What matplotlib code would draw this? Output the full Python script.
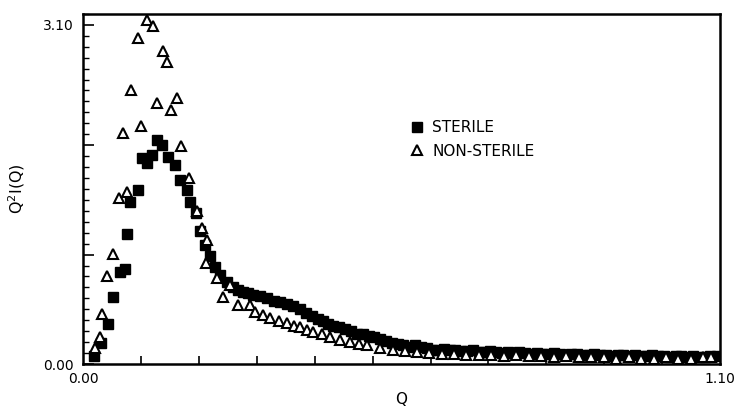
import matplotlib
matplotlib.use('Agg')
import matplotlib.pyplot as plt
from matplotlib.lines import Line2D
from matplotlib.ticker import MultipleLocator, FixedLocator

# scattering curves Q^2 I(Q) for the two sample types
sterile_q = [0.019, 0.031, 0.043, 0.052, 0.064, 0.073, 0.076, 0.081, 0.095, 0.102,
             0.111, 0.119, 0.128, 0.136, 0.147, 0.159, 0.167, 0.180, 0.185, 0.195,
             0.202, 0.211, 0.219, 0.228, 0.237, 0.249, 0.259, 0.268, 0.276, 0.285,
             0.294, 0.305, 0.318, 0.329, 0.340, 0.352, 0.363, 0.375, 0.385, 0.395,
             0.405, 0.414, 0.423, 0.432, 0.442, 0.452, 0.462, 0.473, 0.483, 0.493,
             0.503, 0.513, 0.523, 0.533, 0.543, 0.553, 0.563, 0.573, 0.583, 0.593,
             0.603, 0.613, 0.623, 0.633, 0.643, 0.653, 0.663, 0.673, 0.683, 0.693,
             0.703, 0.713, 0.723, 0.733, 0.743, 0.753, 0.763, 0.773, 0.783, 0.793,
             0.803, 0.813, 0.823, 0.833, 0.843, 0.853, 0.863, 0.873, 0.883, 0.893,
             0.903, 0.913, 0.923, 0.933, 0.943, 0.953, 0.963, 0.973, 0.983, 0.993,
             1.003, 1.013, 1.023, 1.033, 1.043, 1.053, 1.063, 1.073, 1.083, 1.094]
sterile_v = [0.07, 0.19, 0.37, 0.61, 0.84, 0.87, 1.19, 1.48, 1.59, 1.88,
             1.84, 1.91, 2.05, 2.00, 1.89, 1.82, 1.68, 1.59, 1.48, 1.38,
             1.22, 1.09, 0.99, 0.89, 0.81, 0.75, 0.70, 0.68, 0.66, 0.65,
             0.63, 0.62, 0.60, 0.58, 0.57, 0.55, 0.53, 0.50, 0.47, 0.44,
             0.41, 0.39, 0.37, 0.35, 0.34, 0.32, 0.30, 0.27, 0.27, 0.26,
             0.25, 0.23, 0.21, 0.19, 0.18, 0.17, 0.16, 0.17, 0.16, 0.15,
             0.13, 0.13, 0.14, 0.13, 0.13, 0.12, 0.12, 0.13, 0.11, 0.11,
             0.12, 0.11, 0.10, 0.11, 0.10, 0.11, 0.10, 0.09, 0.10, 0.09,
             0.09, 0.10, 0.09, 0.08, 0.09, 0.09, 0.08, 0.08, 0.09, 0.08,
             0.08, 0.07, 0.08, 0.08, 0.07, 0.08, 0.07, 0.07, 0.08, 0.07,
             0.07, 0.06, 0.07, 0.07, 0.06, 0.07, 0.06, 0.06, 0.07, 0.07]

nonsterile_q = [0.021, 0.029, 0.033, 0.041, 0.052, 0.062, 0.069, 0.076, 0.083, 0.095,
                0.100, 0.111, 0.121, 0.128, 0.138, 0.145, 0.152, 0.162, 0.169, 0.183,
                0.197, 0.205, 0.212, 0.214, 0.232, 0.242, 0.254, 0.268, 0.288, 0.297,
                0.310, 0.323, 0.338, 0.352, 0.364, 0.375, 0.386, 0.397, 0.412, 0.427,
                0.444, 0.461, 0.476, 0.490, 0.512, 0.535, 0.556, 0.577, 0.598, 0.620,
                0.641, 0.662, 0.684, 0.705, 0.727, 0.748, 0.770, 0.791, 0.813, 0.834,
                0.856, 0.877, 0.899, 0.920, 0.942, 0.963, 0.985, 1.006, 1.028, 1.049,
                1.071, 1.085]
nonsterile_v = [0.15, 0.25, 0.46, 0.80, 1.01, 1.52, 2.11, 1.57, 2.50, 2.98,
                2.18, 3.14, 3.09, 2.39, 2.86, 2.76, 2.32, 2.43, 1.99, 1.70,
                1.40, 1.24, 0.92, 1.13, 0.79, 0.61, 0.72, 0.54, 0.54, 0.475,
                0.45, 0.42, 0.39, 0.375, 0.35, 0.34, 0.31, 0.29, 0.27, 0.25,
                0.22, 0.20, 0.18, 0.17, 0.15, 0.13, 0.12, 0.11, 0.10, 0.09,
                0.09, 0.08, 0.08, 0.08, 0.07, 0.08, 0.07, 0.07, 0.06, 0.07,
                0.06, 0.06, 0.06, 0.05, 0.06, 0.05, 0.05, 0.06, 0.05, 0.05,
                0.06, 0.06]

labels = ['STERILE', 'NON-STERILE']

plt.rcParams['font.family'] = 'DejaVu Sans'

fig = plt.figure(figsize=(7.4, 4.09), dpi=100)
ax = fig.add_axes([0.1122, 0.110, 0.861, 0.856])

ax.plot(sterile_q, sterile_v, 's', color='black', markersize=7, linestyle='none',
        zorder=3)
ax.plot(nonsterile_q, nonsterile_v, '^', markerfacecolor='white',
        markeredgecolor='black', markersize=7.5, markeredgewidth=1.5,
        linestyle='none', zorder=4)

ax.set_xlim(0, 1.10)
ax.set_ylim(0, 3.20)

for s in ax.spines.values():
    s.set_linewidth(1.8)

# only the end values carry labels
ax.xaxis.set_major_locator(FixedLocator([0, 1.10]))
ax.set_xticklabels(['0.00', '1.10'])
ax.xaxis.set_minor_locator(FixedLocator([0.1, 0.2, 0.3, 0.4, 0.5, 0.6, 0.7, 0.8, 0.9, 1.0]))
ax.yaxis.set_major_locator(FixedLocator([0, 1, 2, 3.10]))
ax.set_yticklabels(['0.00', '', '', '3.10'])
ax.yaxis.set_minor_locator(MultipleLocator(0.1))

ax.tick_params(axis='x', which='major', direction='in', length=0, pad=6, labelsize=10)
ax.tick_params(axis='x', which='minor', direction='in', length=6, width=1.2)
ax.tick_params(axis='y', which='major', direction='in', length=8, width=1.2, pad=7,
               labelsize=10)
ax.tick_params(axis='y', which='minor', direction='in', length=4, width=1.0)

ax.set_xlabel('Q', fontsize=11, labelpad=4)
ax.set_ylabel('Q$^2$I(Q)', fontsize=11.5, labelpad=11)

handles = [
    Line2D([], [], marker='s', color='black', linestyle='none', markersize=7),
    Line2D([], [], marker='^', markerfacecolor='white', markeredgecolor='black',
           markeredgewidth=1.5, linestyle='none', markersize=7.5),
]
ax.legend(handles, labels, loc='upper left', bbox_to_anchor=(0.5534, 0.706),
          bbox_transform=fig.transFigure, frameon=False, fontsize=11,
          handlelength=1, handletextpad=0.5, labelspacing=0.55, borderpad=0,
          borderaxespad=0)

fig.savefig('out.png', dpi=100)
